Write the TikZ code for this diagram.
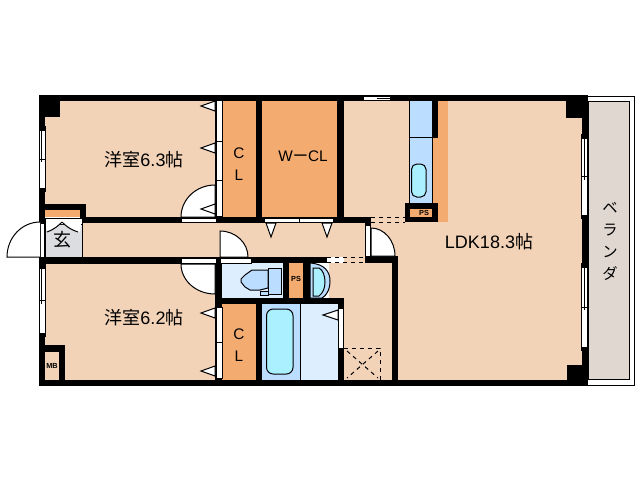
\documentclass[tikz,border=0pt]{standalone}
\usepackage{fontspec}
\setmainfont{Liberation Sans}
\newfontfamily\cjk{Noto Sans CJK JP}
\definecolor{peach}{RGB}{242,211,184}
\definecolor{closet}{RGB}{244,171,111}
\definecolor{paleblue}{RGB}{221,238,255}
\definecolor{midblue}{RGB}{187,221,255}
\definecolor{aqua}{RGB}{170,240,255}
\definecolor{entry}{RGB}{220,221,224}
\definecolor{deck}{RGB}{224,216,208}
\newcommand{\sideglass}[3]{% x, top, bottom
  \fill[black] (#1,#2-4) rectangle (#1+7,#3+4);
  \fill[white,draw=black,thin] (#1+.5,#2) rectangle (#1+6.5,#3);
  \draw[plain] (#1+3,#2) -- (#1+3,{(#2+#3)/2+3});
  \draw[plain] (#1,{(#2+#3)/2}) -- (#1+7,{(#2+#3)/2});
}
\begin{document}
\begin{tikzpicture}
  [
    x=0.75pt,y=-0.75pt,
    plain/.style={line width=0.75pt,draw=black},
    wall/.style={fill=black},
    strip/.style={fill=white,draw=black,line width=0.75pt},
    flap/.style={fill=white,draw=black,line width=0.75pt},
    fixture/.style={draw=black,line width=0.75pt},
    room/.style={font=\fontsize{13.5}{15}\selectfont},
    tag/.style={font=\fontsize{11.5}{16}\selectfont,align=center,inner sep=0pt},
    tiny/.style={font=\bfseries\fontsize{5.5}{6}\selectfont,inner sep=0pt},
  ]
  \useasboundingbox (0,0) rectangle (638,480);
  \fill[white] (0,0) rectangle (638,480);
  % floors
  \fill[peach] (45,100) rectangle (216,217);
  \fill[peach] (45,264) rectangle (216,380);
  \fill[peach] (82,223) rectangle (392,257);
  \fill[peach] (344,100) rectangle (582,380);
  \fill[peach] (329,263) rectangle (392,380);
  \fill[closet] (222,100) rectangle (256,217);
  \fill[closet] (262,100) rectangle (337,217);
  \fill[closet] (222,304) rectangle (256,380);
  \fill[closet] (45,210) rectangle (80,217);
  \fill[closet] (432,100) rectangle (448,222);
  \fill[closet] (289,263) rectangle (303,298);
  \fill[closet] (410,209) rectangle (432,217);
  \fill[entry] (45,224) rectangle (82,257);
  \fill[paleblue] (221,263) rectangle (283,298);
  \fill[paleblue] (300,304) rectangle (338,380);
  \fill[midblue] (262,304) rectangle (300,380);
  \fill[midblue,draw=black,line width=0.75pt] (409,100) rectangle (432,203);
  \draw[plain] (409,137) -- (432,137);
  \draw[plain] (300,304) -- (300,380);
  % walls
  \fill[wall] (39,95) rectangle (588,101);
  \fill[wall] (39,380) rectangle (588,386);
  \fill[wall] (39,95) rectangle (45,386);
  \fill[wall] (582,95) rectangle (588,386);
  \fill[wall] (39,95) rectangle (60,117);
  \fill[wall] (566,95) rectangle (588,118);
  \fill[wall] (567,365) rectangle (588,386);
  \fill[wall] (39,204) rectangle (86,210);
  \fill[wall] (80,204) rectangle (86,223);
  \fill[wall] (80,217) rectangle (371,223);
  \fill[wall] (39,257) rectangle (216,264);
  \fill[wall] (45,345) rectangle (65,352);
  \fill[wall] (59,345) rectangle (65,380);
  \fill[wall] (215,101) rectangle (222,217);
  \fill[wall] (215,257) rectangle (222,380);
  \fill[wall] (256,101) rectangle (262,217);
  \fill[wall] (337,101) rectangle (344,217);
  \fill[wall] (432,101) rectangle (438,138);
  \fill[wall] (405,203) rectangle (438,209);
  \fill[wall] (405,217) rectangle (438,222);
  \fill[wall] (405,203) rectangle (410,222);
  \fill[wall] (432,203) rectangle (438,222);
  \fill[wall] (215,257) rectangle (327,263);
  \fill[wall] (365,256) rectangle (398,263);
  \fill[wall] (392,256) rectangle (398,386);
  \fill[wall] (283,263) rectangle (289,298);
  \fill[wall] (303,263) rectangle (310,298);
  \fill[wall] (215,298) rectangle (344,304);
  \fill[wall] (256,304) rectangle (262,380);
  \fill[wall] (338,298) rectangle (344,386);
  \fill[wall] (365,223) rectangle (371,230);
  % sliding panels and openings
  \fill[strip] (363,96) rectangle (390,100);
  \draw[plain] (377,98) -- (390,98);
  \fill[strip] (216,100) rectangle (222,216);
  \draw[plain] (216,141) -- (222,141);
  \draw[plain] (216,180) -- (223,180);
  \fill[strip] (216,307) rectangle (222,378);
  \draw[plain] (216,342) -- (223,342);
  \fill[strip] (264,218) rectangle (333,222);
  \draw[plain] (299,218) -- (299,222);
  \fill[strip] (181,218) rectangle (216,222);
  \fill[strip] (181,258) rectangle (216,263);
  \fill[strip] (220,258) rectangle (251,263);
  \fill[strip] (365,225) rectangle (370,256);
  \fill[strip] (338,308) rectangle (343,348);
  \fill[strip] (40,223) rectangle (44,257);
  \fill[white,draw=black,line width=0.75pt] (45,218) rectangle (82,224);
  \sideglass{38.5}{130}{188}
  \sideglass{38.5}{268}{333}
  \sideglass{581}{138}{215}
  \sideglass{581}{267}{347}
  % door leaves
  \draw[flap] (215,217) -- (181,217) arc[start angle=180,end angle=90,x radius=34,y radius=-32] -- cycle;
  \draw[flap] (215,264) -- (181,264) arc[start angle=180,end angle=270,x radius=34,y radius=-30] -- cycle;
  \draw[flap] (220,257) -- (248,257) arc[start angle=0,end angle=90,x radius=28,y radius=-26] -- cycle;
  \draw[flap] (371,256) -- (395,256) arc[start angle=0,end angle=90,x radius=24,y radius=-28] -- cycle;
  \draw[flap] (40,257) -- (7,257) arc[start angle=180,end angle=90,x radius=33,y radius=-35];
  % pointers for the folding doors
  \foreach \y in {106,148,209,313,371}
    \draw[flap] (215,\y-5) -- (201,\y) -- (215,\y+5) -- cycle;
  \foreach \x in {271,327}
    \draw[flap] (\x-5,223) -- (\x,237) -- (\x+5,223) -- cycle;
  \draw[flap] (338,310) -- (323,315) -- (338,320) -- cycle;
  % entry
  \fill[white] (45,224) -- (47,231) .. controls (55,229) and (59,225) .. (62,222) .. controls (65,225) and (69,229) .. (80,232) -- (81,224) -- cycle;
  \draw[plain] (47,232) .. controls (55,229) and (59,225) .. (62,222);
  \draw[plain] (62,222) .. controls (65,225) and (69,229) .. (78,232);
  \draw[plain] (82,218) -- (82,257);
  \draw[plain] (45,218) -- (45,257);
  % kitchen, wc, bath
  \draw[fixture,fill=aqua,rounded corners=4pt] (411.5,164) rectangle (426,197);
  \draw[fixture,fill=aqua,rounded corners=5pt] (266.5,309) rectangle (293,374);
  \draw[fixture,fill=midblue] (268,268) rectangle (281,294);
  \draw[fixture,fill=midblue] (260,291) rectangle (268,295);
  \draw[fixture,fill=midblue] (268,270) -- (261,270) -- (252,270) -- (245,275) -- (241,279) -- (241,282) -- (245,287) -- (250,290) -- (260,290) -- (268,288) -- cycle;
  \draw[fixture,fill=midblue] (310,263) .. controls (325,264) and (330,272) .. (330,281) .. controls (330,290) and (326,296) .. (322,298) -- (310,298) -- cycle;
  \draw[fixture,fill=aqua] (313,268) -- (319,268) .. controls (323,270) and (325,276) .. (325,282) .. controls (325,288) and (323,293) .. (319,296) -- (313,296) -- cycle;
  % dashed things
  \draw[plain,dashed] (371,217.5) -- (405,217.5);
  \draw[plain,dashed] (371,222.5) -- (405,222.5);
  \draw[plain,dashed] (327,257.5) -- (365,257.5);
  \draw[plain,dashed] (327,262.5) -- (365,262.5);
  \draw[plain,dashed] (344,348) -- (380,348) -- (380,380);
  \draw[plain,dashed] (347,351) -- (378,378);
  \draw[plain,dashed] (378,351) -- (347,378);
  % balcony
  \draw[plain] (588,96) -- (634,96) -- (634,385) -- (588,385);
  \draw[plain,fill=deck] (588,101) rectangle (629,379);
  % labels
  \node[room] (bedroom a) at (144,160) {{\cjk 洋室}6.3{\cjk 帖}};
  \node[room] (bedroom b) at (144,318) {{\cjk 洋室}6.2{\cjk 帖}};
  \node[room] (living)    at (489,242) {LDK18.3{\cjk 帖}};
  \node[tag]  (closet a)  at (239,164) {C\\L};
  \node[tag]  (closet b)  at (239,345) {C\\L};
  \node[tag]  (walk in)   at (303,156) {W{\cjk ー}CL};
  \node[room,inner sep=0pt] (hall) at (62,240) {\cjk 玄};
  \node[inner sep=0pt,align=center,font=\cjk\fontsize{11.5}{16.5}\selectfont] (deck label) at (610,241) {ベ\\ラ\\ン\\ダ};
  \node[tiny] (shaft a) at (424,213) {PS};
  \node[tiny] (shaft b) at (296,279) {PS};
  \node[tiny] (meter)   at (52,366) {MB};
\end{tikzpicture}
\end{document}
